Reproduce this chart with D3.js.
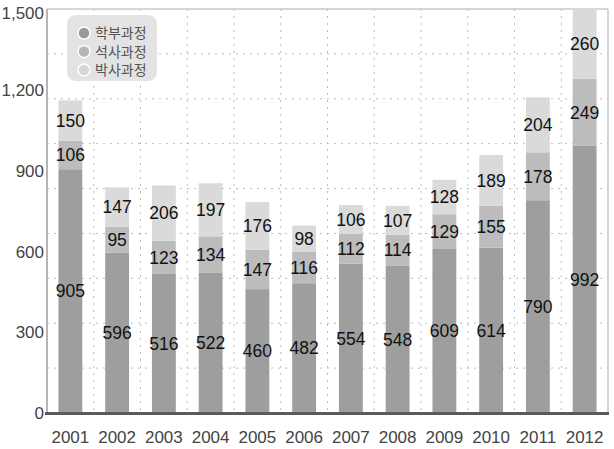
<!DOCTYPE html>
<html><head><meta charset="utf-8">
<script src="https://cdn.jsdelivr.net/npm/d3@7/dist/d3.min.js"></script>
<style>body{margin:0;background:#fff}svg{display:block}</style>
</head><body><svg id="c" width="614" height="449"></svg>
<script>
const years = ["2001","2002","2003","2004","2005","2006","2007","2008","2009","2010","2011","2012"];
const undergrad = [905,596,516,522,460,482,554,548,609,614,790,992];
const master = [106,95,123,134,147,116,112,114,129,155,178,249];
const doctor = [150,147,206,197,176,98,106,107,128,189,204,260];
const seriesNames = ["학부과정","석사과정","박사과정"];
const yTicks = [0,300,600,900,1200,1500];

const colors = ["#9e9e9e","#bcbcbc","#dadada"];
const legendColors = ["#999999","#b6b6b6","#d6d6d6"];
const svg = d3.select("#c");
const L = 47, R = 608, T = 9, B = 413;
const x = d3.scaleBand().domain(years).range([L, R]).paddingInner(0.49).paddingOuter(0.245);
const xb = d3.scaleBand().domain(years).range([L, R]);
const y = d3.scaleLinear().domain([0,1500]).range([B, T]).clamp(true);
const font = "'Liberation Sans', Arial, sans-serif";

// grid
const gridVals = d3.range(1,9).map(i => 1500*i/9);
svg.append("g").selectAll("line").data(gridVals).join("line")
  .attr("x1", L).attr("x2", R).attr("y1", d=>y(d)).attr("y2", d=>y(d))
  .attr("stroke","#bdbdbd").attr("stroke-width",1).attr("stroke-dasharray","2,5");
svg.append("g").selectAll("line").data(years.slice(1)).join("line")
  .attr("x1", d=>xb(d)).attr("x2", d=>xb(d)).attr("y1", T).attr("y2", B)
  .attr("stroke","#bdbdbd").attr("stroke-width",1).attr("stroke-dasharray","2,5");

// frame
svg.append("line").attr("x1",L).attr("x2",R).attr("y1",T).attr("y2",T).attr("stroke","#c8c8c8").attr("stroke-width",1.5);
svg.append("line").attr("x1",R).attr("x2",R).attr("y1",T).attr("y2",B).attr("stroke","#c8c8c8").attr("stroke-width",1.5);
svg.append("line").attr("x1",L).attr("x2",L).attr("y1",T).attr("y2",B).attr("stroke","#b5b5b5").attr("stroke-width",2);

// stacked bars
const data = years.map((yr,i)=>({year:yr, 학부과정:undergrad[i], 석사과정:master[i], 박사과정:doctor[i]}));
const stack = d3.stack().keys(seriesNames)(data);
stack.forEach((s,si)=>{
  const g = svg.append("g");
  g.selectAll("rect").data(s).join("rect")
    .attr("x", d=>x(d.data.year)).attr("width", x.bandwidth())
    .attr("y", d=>y(d[1])).attr("height", d=>y(d[0])-y(d[1]))
    .attr("fill", colors[si]);
  g.selectAll("text").data(s).join("text")
    .attr("x", d=>x(d.data.year)+x.bandwidth()/2)
    .attr("y", d=>(y(d[0])+y(d[1]))/2)
    .attr("dy","0.36em").attr("text-anchor","middle")
    .attr("font-family",font).attr("font-size",17.5).attr("fill","#111")
    .text(d=>d[1]-d[0]);
});

// bottom axis line
svg.append("line").attr("x1",L-2).attr("x2",R+1).attr("y1",B+0.5).attr("y2",B+0.5).attr("stroke","#5a5a5a").attr("stroke-width",3);

// y labels
svg.append("g").selectAll("text").data(yTicks).join("text")
  .attr("x", 44).attr("y", d=>Math.max(y(d),13)).attr("dy","0.36em").attr("text-anchor","end")
  .attr("font-family",font).attr("font-size",17).attr("fill","#444")
  .text(d=>d3.format(",")(d));
// x labels
svg.append("g").selectAll("text").data(years).join("text")
  .attr("x", d=>xb(d)+xb.bandwidth()/2).attr("y", 437).attr("dy","0.36em").attr("text-anchor","middle")
  .attr("font-family",font).attr("font-size",17).attr("fill","#444")
  .text(d=>d);

// legend
const lg = svg.append("g");
lg.append("rect").attr("x",67).attr("y",15).attr("width",90).attr("height",66).attr("rx",9).attr("fill","#e3e3e3");
seriesNames.forEach((n,i)=>{
  lg.append("circle").attr("cx",84).attr("cy",33+i*18.5).attr("r",6).attr("fill",legendColors[i]).attr("stroke","#fff").attr("stroke-width",1.5);
  lg.append("text").attr("x",95).attr("y",33+i*18.5).attr("dy","0.36em")
    .attr("font-family","'Noto Sans CJK KR', sans-serif").attr("font-size",14).attr("fill","#555").text(n);
});
</script></body></html>
